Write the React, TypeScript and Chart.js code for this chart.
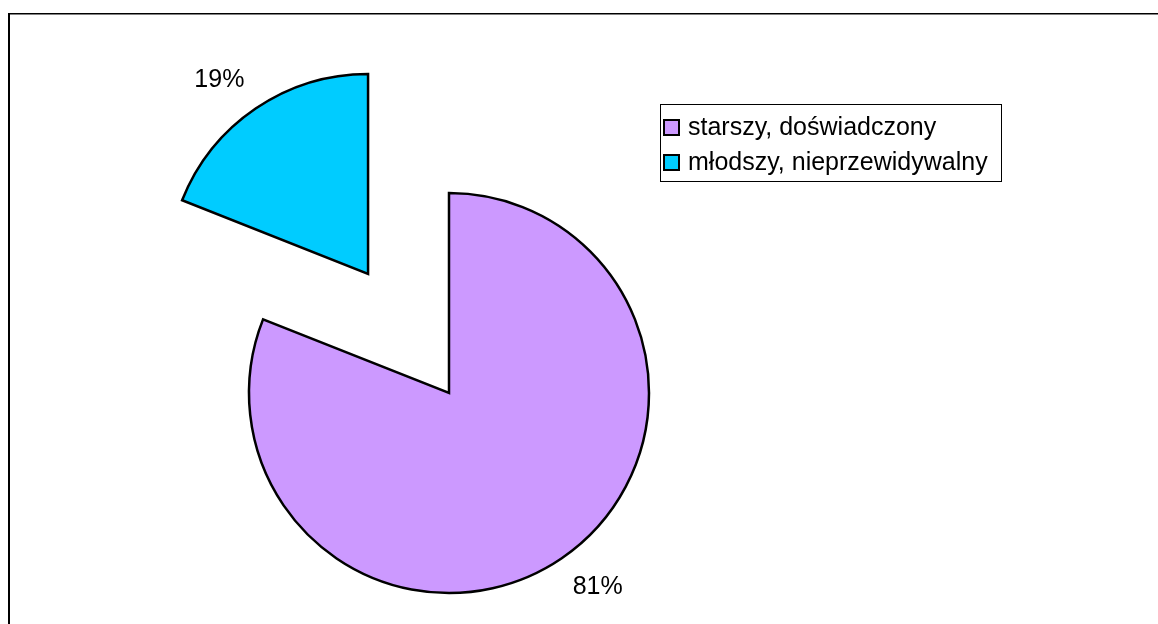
import React, { useEffect, useRef } from 'react';
import { Chart, registerables, ArcElement, PieController } from 'chart.js';

Chart.register(...registerables);

// ---- data ----
const categories = ['starszy, doświadczony', 'młodszy, nieprzewidywalny'];
const values = [81, 19];
const sliceColors = ['#CC99FF', '#00CCFF'];
const explodeOffsets = [0, 144];

const FONT = '25px "Liberation Sans", Arial, Helvetica, sans-serif';

// Arc that is moved out by its full offset, without growing its radius
class ExplodedArc extends ArcElement {
  static id = 'explodedArc';
  draw(ctx: CanvasRenderingContext2D) {
    const opts: any = (this as any).options;
    const shift = (opts && opts.offset) || 0;
    if (!shift) {
      super.draw(ctx);
      return;
    }
    const self: any = this;
    const mid = (self.startAngle + self.endAngle) / 2;
    ctx.save();
    ctx.translate(Math.cos(mid) * shift, Math.sin(mid) * shift);
    self.options = { ...opts, offset: 0 };
    super.draw(ctx);
    self.options = opts;
    ctx.restore();
  }
}

class ExplodedPieController extends PieController {
  static id = 'explodedPie';
  static defaults = { dataElementType: 'explodedArc' };
}

Chart.register(ExplodedArc as any, ExplodedPieController as any);

const pctLabels = {
  id: 'pctLabels',
  afterDatasetsDraw(chart: any) {
    const meta = chart.getDatasetMeta(0);
    const ds = chart.data.datasets[0];
    const total = ds.data.reduce((a: number, b: number) => a + b, 0);
    const ctx = chart.ctx;
    ctx.save();
    ctx.font = FONT;
    ctx.fillStyle = '#000';
    ctx.textAlign = 'center';
    ctx.textBaseline = 'middle';
    meta.data.forEach((arc: any, i: number) => {
      const p = arc.getProps(['x', 'y', 'startAngle', 'endAngle', 'outerRadius'], true);
      const mid = (p.startAngle + p.endAngle) / 2;
      const shift = (arc.options && arc.options.offset) || 0;
      const cx = p.x + Math.cos(mid) * shift;
      const cy = p.y + Math.sin(mid) * shift;
      const text = Math.round((ds.data[i] / total) * 100) + '%';
      const w = ctx.measureText(text).width;
      const d = p.outerRadius + 20;
      const ax = cx + Math.cos(mid) * d;
      const ay = cy + Math.sin(mid) * d;
      const tx = ax + Math.sign(Math.cos(mid)) * (w / 2);
      const ty = ay + Math.sign(Math.sin(mid)) * 12;
      ctx.fillText(text, tx, ty);
    });
    ctx.restore();
  },
};

const boxLegend = {
  id: 'boxLegend',
  afterDraw(chart: any) {
    const ctx = chart.ctx;
    const labels: string[] = chart.data.labels;
    const colors: string[] = chart.data.datasets[0].backgroundColor;
    const boxX = 660;
    const boxY = 104;
    const rowH = 35;
    const sw = 15;
    const textOff = 28;
    ctx.save();
    ctx.font = FONT;
    let maxW = 0;
    labels.forEach((l) => {
      maxW = Math.max(maxW, ctx.measureText(l).width);
    });
    const boxW = Math.round(textOff + maxW + 13);
    const boxH = 77;
    ctx.strokeStyle = '#000';
    ctx.lineWidth = 1;
    ctx.strokeRect(boxX + 0.5, boxY + 0.5, boxW, boxH);
    ctx.textAlign = 'left';
    ctx.textBaseline = 'middle';
    labels.forEach((l, i) => {
      const cy = boxY + 23 + i * rowH;
      ctx.fillStyle = colors[i];
      ctx.fillRect(boxX + 4, Math.round(cy - sw / 2), sw, sw);
      ctx.lineWidth = 2;
      ctx.strokeStyle = '#000';
      ctx.strokeRect(boxX + 4, Math.round(cy - sw / 2), sw, sw);
      ctx.fillStyle = '#000';
      ctx.fillText(l, boxX + textOff, cy + 1);
    });
    ctx.restore();
  },
};

export default function App() {
  const ref = useRef<HTMLCanvasElement | null>(null);
  useEffect(() => {
    if (!ref.current) return;
    const chart = new Chart(ref.current, {
      type: 'explodedPie' as any,
      data: {
        labels: categories,
        datasets: [
          {
            data: values,
            backgroundColor: sliceColors,
            borderColor: '#000',
            borderWidth: 2.5,
            borderJoinStyle: 'miter',
            offset: explodeOffsets,
            radius: 200,
          } as any,
        ],
      },
      options: {
        responsive: false,
        animation: false,
        events: [],
        layout: { padding: { left: 0, right: 260, top: 162, bottom: 0 } },
        plugins: {
          legend: { display: false },
          tooltip: { enabled: false },
        },
      } as any,
      plugins: [pctLabels, boxLegend],
    });
    return () => chart.destroy();
  }, []);
  return (
    <div
      style={{
        position: 'absolute',
        left: 0,
        top: 0,
        width: 1158,
        height: 624,
        overflow: 'hidden',
        background: '#fff',
      }}
    >
      <div
        style={{
          position: 'absolute',
          left: 8,
          top: 13,
          width: 1200,
          height: 700,
          borderTop: '1px solid #000',
          borderLeft: '2px solid #000',
          boxShadow: 'inset 0 1px 0 #808080',
        }}
      />
      <canvas
        ref={ref}
        width={1158}
        height={624}
        style={{ position: 'absolute', left: 0, top: 0, display: 'block' }}
      />
    </div>
  );
}
